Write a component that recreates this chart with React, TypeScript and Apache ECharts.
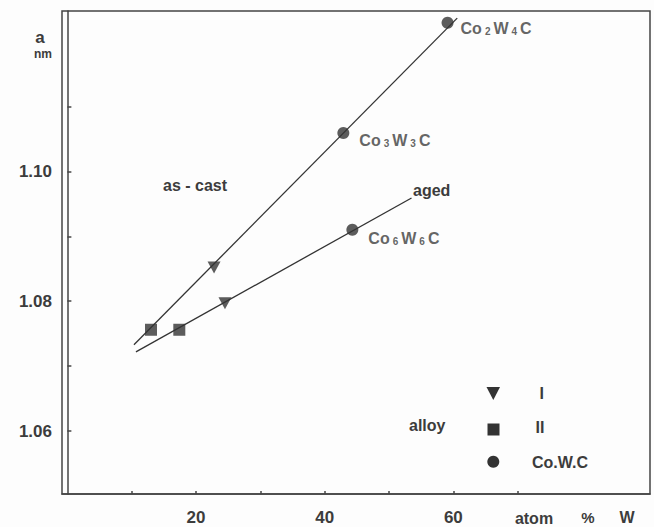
import React, { useEffect, useRef } from "react";
import * as echarts from "echarts";

// Axis ticks / labels
const xTicks = [10, 20, 30, 40, 50, 60, 70];
const xLabels = [20, 40, 60];
const yTicks = [1.06, 1.07, 1.08, 1.09, 1.1, 1.11];
const yLabels = [1.06, 1.08, 1.1];

// Fitted lines (atom % W, a nm)
const asCastLine = [
  [10.35, 1.0733],
  [60.6, 1.1236],
];
const agedLine = [
  [10.66, 1.0722],
  [53.5, 1.0959],
];

// Alloy data
const alloyI = [
  [22.8, 1.0852],
  [24.5, 1.0797],
];
const alloyII = [
  [13.0, 1.0756],
  [17.4, 1.0756],
];
const coWC = [
  [42.9, 1.1059],
  [44.3, 1.091],
  [59.1, 1.1229],
];
const coWCNames = [
  ["Co", "3", "W", "3", "C"],
  ["Co", "6", "W", "6", "C"],
  ["Co", "2", "W", "4", "C"],
];
const coWCOffsets = [
  [4, 6],
  [4, 8],
  [1, 5],
];

const INK = "#333";
const TEXT = "#3c3c3c";
const FONT = "'Liberation Sans', Arial, Helvetica, sans-serif";

export default function App() {
  const ref = useRef<HTMLDivElement>(null);
  useEffect(() => {
    if (!ref.current) return;
    const chart = echarts.init(ref.current, null, { renderer: "svg" });
    const txt = (text: string, x: number, y: number, size = 16, align = "left") => ({
      type: "text",
      x,
      y,
      style: {
        text,
        fill: TEXT,
        font: `bold ${size}px ${FONT}`,
        textAlign: align,
        textVerticalAlign: "middle",
      },
    });
    const option: any = {
      animation: false,
      backgroundColor: "#fdfdfd",
      textStyle: { fontFamily: FONT },
      grid: {
        left: 62,
        right: 4,
        top: 11,
        bottom: 33,
        show: true,
        borderColor: "#444",
        borderWidth: 1.5,
        backgroundColor: "transparent",
      },
      xAxis: {
        type: "value",
        min: -0.835,
        max: 90.57,
        axisLine: { show: true, lineStyle: { color: "#444", width: 1.5 } },
        axisTick: {
          show: true,
          inside: true,
          length: 3,
          customValues: xTicks,
          lineStyle: { color: "#444", width: 1.5 },
        },
        axisLabel: {
          customValues: xLabels,
          margin: 15,
          fontSize: 17,
          fontWeight: "bold",
          color: TEXT,
          fontFamily: FONT,
        },
        splitLine: { show: false },
      },
      yAxis: {
        type: "value",
        min: 1.0503,
        max: 1.1247,
        axisLine: { show: true, lineStyle: { color: "#444", width: 1.5 } },
        axisTick: {
          show: true,
          inside: true,
          length: 4,
          customValues: yTicks,
          lineStyle: { color: "#444", width: 1.5 },
        },
        axisLabel: {
          customValues: yLabels,
          margin: 10,
          fontSize: 17,
          fontWeight: "bold",
          color: TEXT,
          fontFamily: FONT,
          formatter: (v: number) => v.toFixed(2),
        },
        splitLine: { show: false },
      },
      series: [
        {
          type: "line",
          data: asCastLine,
          symbol: "none",
          lineStyle: { color: INK, width: 1.3 },
          z: 1,
        },
        {
          type: "line",
          data: agedLine,
          symbol: "none",
          lineStyle: { color: INK, width: 1.3 },
          z: 1,
        },
        {
          name: "I",
          type: "scatter",
          data: alloyI,
          symbol: "triangle",
          symbolRotate: 180,
          symbolSize: [13, 12],
          itemStyle: { color: INK },
          z: 3,
        },
        {
          name: "II",
          type: "scatter",
          data: alloyII,
          symbol: "rect",
          symbolSize: 12,
          itemStyle: { color: INK },
          z: 3,
        },
        {
          name: "Co.W.C",
          type: "scatter",
          data: coWC.map((p, i) => ({
            value: p,
            label: {
              show: true,
              position: "right",
              distance: 6,
              offset: coWCOffsets[i],
              formatter: `{b|${coWCNames[i][0]}}{s|${coWCNames[i][1]}}{b|${coWCNames[i][2]}}{s|${coWCNames[i][3]}}{b|${coWCNames[i][4]}}`,
            },
          })),
          symbol: "circle",
          symbolSize: 12,
          itemStyle: { color: INK },
          label: {
            rich: {
              b: { fontSize: 16, fontWeight: "bold", color: TEXT, fontFamily: FONT, lineHeight: 18, verticalAlign: "bottom" },
              s: { fontSize: 10, fontWeight: "bold", color: TEXT, fontFamily: FONT, lineHeight: 14, verticalAlign: "bottom", padding: [0, 3, 0, 3] },
            },
          },
          z: 3,
        },
      ],
      graphic: [
        txt("a", 40, 37, 17, "center"),
        txt("nm", 43, 54, 12, "center"),
        txt("as - cast", 163, 185, 16),
        txt("aged", 413, 190, 16),
        txt("alloy", 409, 425, 16),
        {
          type: "polygon",
          shape: { points: [[486.5, 387], [500, 387], [493.3, 400]] },
          style: { fill: INK },
        },
        { type: "rect", shape: { x: 487.5, y: 423.5, width: 12, height: 12 }, style: { fill: INK } },
        { type: "circle", shape: { cx: 493.3, cy: 461.7, r: 6 }, style: { fill: INK } },
        txt("I", 541.7, 393, 16, "center"),
        txt("II", 540, 427, 16, "center"),
        txt("Co.W.C", 532, 462, 16),
        txt("atom", 534, 518, 16, "center"),
        txt("%", 588, 517, 15, "center"),
        txt("W", 627, 517, 16, "center"),
      ],
    };
    chart.setOption(option);
    return () => chart.dispose();
  }, []);
  return (
    <div
      ref={ref}
      style={{ position: "fixed", left: 0, top: 0, width: 654, height: 527, background: "#fdfdfd" }}
    />
  );
}
